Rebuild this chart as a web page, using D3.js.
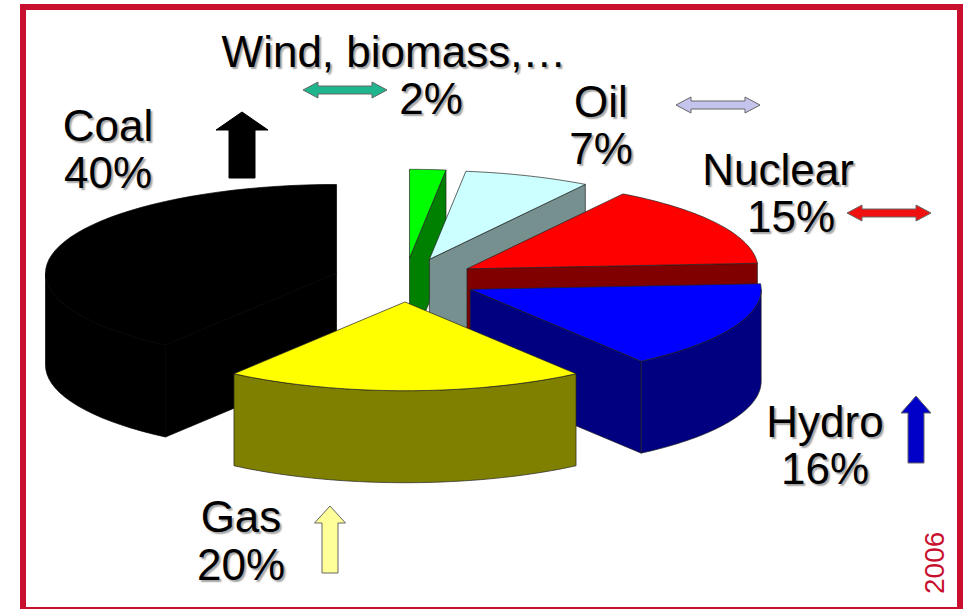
<!DOCTYPE html>
<html>
<head>
<meta charset="utf-8">
<script src="https://cdnjs.cloudflare.com/ajax/libs/d3/7.8.5/d3.min.js"></script>
<style>
  html, body { margin: 0; padding: 0; background: #fff; }
  svg { display: block; }
  .label { font-family: "Liberation Sans", Arial, sans-serif; font-size: 44px; fill: #000;
           text-anchor: middle; text-shadow: 2px 2px 1.5px rgba(90,90,90,.55); }
  .year { font-family: "Liberation Sans", Arial, sans-serif; font-size: 28px; fill: #c8102e; }
</style>
</head>
<body>
<script>
// Electricity generation mix, 2006
const categories = ["Wind, biomass,…", "Oil", "Nuclear", "Hydro", "Gas", "Coal"];
const shares = [2, 7, 15, 16, 20, 40];
const trends = ["flat", "flat", "flat", "up", "up", "up"];
const topColors = ["#00ff00", "#ccffff", "#ff0000", "#0000ff", "#ffff00", "#000000"];
const wallColors = ["#008000", "#75908f", "#800000", "#000080", "#808000", "#000000"];
const edgeColors = ["#222", "#222", "#222", "#222", "#222", "#000"];
const arrowColors = ["#1fb58d", "#c4c4ec", "#f01010", "#0000c8", "#ffff99", "#000000"];
const yearLabel = "2006";

// Pie geometry: tilted ground plane, radial explosion of each slice, wall height
const width = 966, height = 609;
const cx = 405, cy = 280, radius = 291, tilt = 0.305, explode = 72, wallHeight = 92;

// Text lines are centred on [x, baseline]; arrows sit at [x, y] (tip for up, centre for flat)
const labelLayout = [
  [[394, 67], [431, 114]],
  [[601, 117], [601, 164]],
  [[778, 185], [791, 232]],
  [[825, 437], [825, 484]],
  [[241, 532], [241, 580]],
  [[108, 141], [108, 188]]
];
const arrowLayout = [
  { at: [345, 90], w: 84, t: 8, hw: 8, hl: 15 },
  { at: [718, 105], w: 84, t: 8, hw: 8, hl: 15 },
  { at: [889, 213], w: 84, t: 8, hw: 8, hl: 15 },
  { at: [916, 396], len: 67, t: 16, hw: 15, hl: 17 },
  { at: [330, 506], len: 67, t: 16, hw: 15.5, hl: 17 },
  { at: [242, 112], len: 66, t: 26, hw: 26, hl: 18 }
];

const svg = d3.select("body").append("svg").attr("width", width).attr("height", height);

// Frame
svg.append("rect").attr("x", 23).attr("y", 7).attr("width", 937).attr("height", 603)
  .attr("fill", "#fff").attr("stroke", "#c8102e").attr("stroke-width", 6);

const pie = d3.pie().sort(null).startAngle(0).endAngle(2 * Math.PI);
const arcs = pie(shares);
const line = d3.line();

// Screen position of polar point (angle clockwise from the back of the pie) on the tilted plane
const project = (apex, a, r) => [
  apex[0] + r * Math.sin(a),
  apex[1] - tilt * r * Math.cos(a)
];

const sliceLayer = svg.append("g").attr("stroke-width", 0.7).attr("stroke-linejoin", "round");

// Painter's order: slices running around the back first, the front one last
const order = [0, 1, 2, 3, 5, 4];
order.forEach(i => {
  const d = arcs[i];
  const mid = (d.startAngle + d.endAngle) / 2;
  const apex = project([cx, cy], mid, explode);
  const steps = d3.range(0, 49).map(k => d.startAngle + (d.endAngle - d.startAngle) * k / 48);
  const rim = steps.map(a => project(apex, a, radius));
  const outline = [apex, ...rim];
  const g = sliceLayer.append("g").attr("stroke", edgeColors[i]);

  // Walls are shown wherever the top outline runs leftward, clockwise on screen
  const drop = p => [p[0], p[1] + wallHeight];
  const wall = pts => g.append("path")
    .attr("d", line([...pts, ...pts.slice().reverse().map(drop)]) + "Z")
    .attr("fill", wallColors[i]);

  if (rim[0][0] < apex[0]) wall([apex, rim[0]]);
  if (apex[0] < rim[rim.length - 1][0]) wall([rim[rim.length - 1], apex]);
  const frontRim = steps.map((a, k) => Math.cos(a) < 0 ? rim[k] : null).filter(Boolean);
  if (frontRim.length > 1) wall(frontRim);

  g.append("path").attr("d", line(outline) + "Z").attr("fill", topColors[i]);
});

// Trend arrows next to the labels
const arrowLayer = svg.append("g").attr("stroke-linejoin", "miter");
trends.forEach((trend, i) => {
  const a = arrowLayout[i];
  const [x, y] = a.at;
  let pts;
  if (trend === "up") {
    pts = [[x, y], [x + a.hw, y + a.hl], [x + a.t / 2, y + a.hl], [x + a.t / 2, y + a.len],
           [x - a.t / 2, y + a.len], [x - a.t / 2, y + a.hl], [x - a.hw, y + a.hl]];
  } else {
    const h = a.w / 2;
    pts = [[x - h, y], [x - h + a.hl, y - a.hw], [x - h + a.hl, y - a.t / 2], [x + h - a.hl, y - a.t / 2],
           [x + h - a.hl, y - a.hw], [x + h, y], [x + h - a.hl, y + a.hw], [x + h - a.hl, y + a.t / 2],
           [x - h + a.hl, y + a.t / 2], [x - h + a.hl, y + a.hw]];
  }
  arrowLayer.append("path").attr("d", line(pts) + "Z")
    .attr("fill", arrowColors[i]).attr("stroke", i === 5 ? "#000" : "#666").attr("stroke-width", 1);
});

// Category name and share
categories.forEach((name, i) => {
  const [nameAt, shareAt] = labelLayout[i];
  svg.append("text").attr("class", "label").attr("x", nameAt[0]).attr("y", nameAt[1]).text(name);
  svg.append("text").attr("class", "label").attr("x", shareAt[0]).attr("y", shareAt[1]).text(shares[i] + "%");
});

svg.append("text").attr("class", "year")
  .attr("transform", "translate(944,594) rotate(-90)").text(yearLabel);
</script>
</body>
</html>
